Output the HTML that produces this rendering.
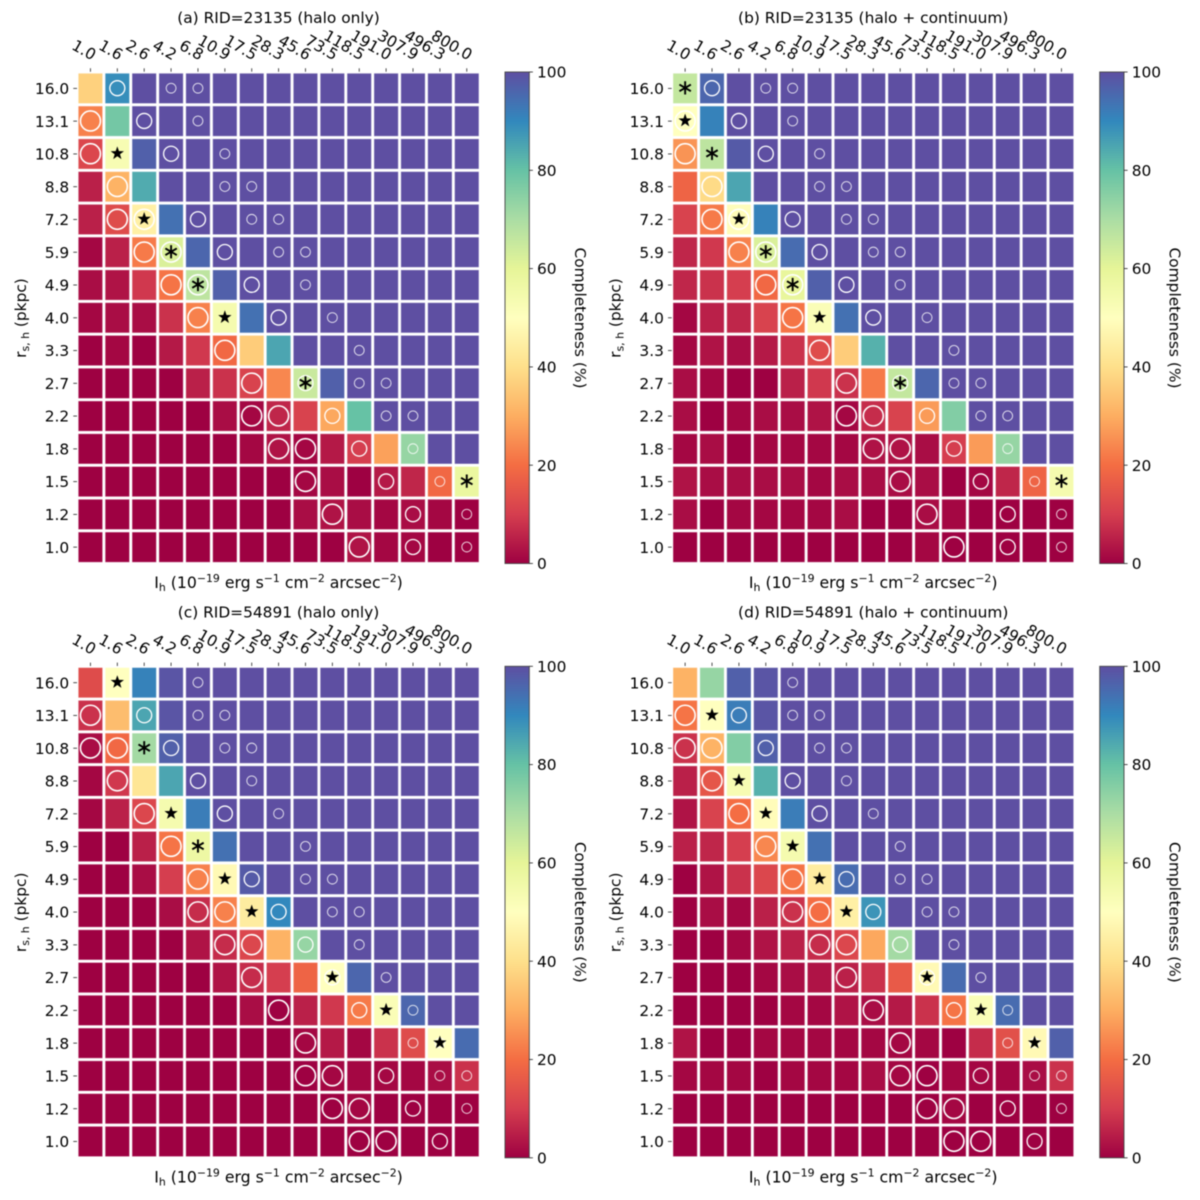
<!DOCTYPE html>
<html lang="en">
<head>
<meta charset="utf-8">
<title>Completeness heatmaps</title>
<style>
html,body{margin:0;padding:0;background:#fff;}
svg{display:block;filter:blur(0.4px);}
text{font-family:"DejaVu Sans","Liberation Sans",sans-serif;font-size:15.4px;fill:#000;}
.sm{font-size:10.9px;}
.xl{font-size:15.7px;}
</style>
</head>
<body>
<svg id="figure" xmlns="http://www.w3.org/2000/svg" width="1200" height="1200" viewBox="0 0 1200 1200" xml:space="preserve">
<defs id="defs"></defs>
<rect x="0" y="0" width="1200" height="1200" fill="#fff"/>

<g id="panel-a" transform="translate(0,0)">
<text x="278.5" y="23" text-anchor="middle">(a) RID=23135 (halo only)</text>
<text class="xl" x="278.5" y="588" text-anchor="middle">I<tspan class="sm" dy="3">h</tspan><tspan dy="-3"> (10</tspan><tspan class="sm" dy="-6">−19</tspan><tspan dy="6"> erg s</tspan><tspan class="sm" dy="-6">−1</tspan><tspan dy="6"> cm</tspan><tspan class="sm" dy="-6">−2</tspan><tspan dy="6"> arcsec</tspan><tspan class="sm" dy="-6">−2</tspan><tspan dy="6">)</tspan></text>
<text transform="translate(26,318) rotate(-90)" text-anchor="middle">r<tspan class="sm" dy="3">s, h</tspan><tspan dy="-3"> (pkpc)</tspan></text>
<text transform="translate(575,318) rotate(90)" text-anchor="middle">Completeness (%)</text>
</g>

<g id="panel-b" transform="translate(594.7,0)">
<text x="278.5" y="23" text-anchor="middle">(b) RID=23135 (halo + continuum)</text>
<text class="xl" x="278.5" y="588" text-anchor="middle">I<tspan class="sm" dy="3">h</tspan><tspan dy="-3"> (10</tspan><tspan class="sm" dy="-6">−19</tspan><tspan dy="6"> erg s</tspan><tspan class="sm" dy="-6">−1</tspan><tspan dy="6"> cm</tspan><tspan class="sm" dy="-6">−2</tspan><tspan dy="6"> arcsec</tspan><tspan class="sm" dy="-6">−2</tspan><tspan dy="6">)</tspan></text>
<text transform="translate(26,318) rotate(-90)" text-anchor="middle">r<tspan class="sm" dy="3">s, h</tspan><tspan dy="-3"> (pkpc)</tspan></text>
<text transform="translate(575,318) rotate(90)" text-anchor="middle">Completeness (%)</text>
</g>

<g id="panel-c" transform="translate(0,594.3)">
<text x="278.5" y="23" text-anchor="middle">(c) RID=54891 (halo only)</text>
<text class="xl" x="278.5" y="588" text-anchor="middle">I<tspan class="sm" dy="3">h</tspan><tspan dy="-3"> (10</tspan><tspan class="sm" dy="-6">−19</tspan><tspan dy="6"> erg s</tspan><tspan class="sm" dy="-6">−1</tspan><tspan dy="6"> cm</tspan><tspan class="sm" dy="-6">−2</tspan><tspan dy="6"> arcsec</tspan><tspan class="sm" dy="-6">−2</tspan><tspan dy="6">)</tspan></text>
<text transform="translate(26,318) rotate(-90)" text-anchor="middle">r<tspan class="sm" dy="3">s, h</tspan><tspan dy="-3"> (pkpc)</tspan></text>
<text transform="translate(575,318) rotate(90)" text-anchor="middle">Completeness (%)</text>
</g>

<g id="panel-d" transform="translate(594.7,594.3)">
<text x="278.5" y="23" text-anchor="middle">(d) RID=54891 (halo + continuum)</text>
<text class="xl" x="278.5" y="588" text-anchor="middle">I<tspan class="sm" dy="3">h</tspan><tspan dy="-3"> (10</tspan><tspan class="sm" dy="-6">−19</tspan><tspan dy="6"> erg s</tspan><tspan class="sm" dy="-6">−1</tspan><tspan dy="6"> cm</tspan><tspan class="sm" dy="-6">−2</tspan><tspan dy="6"> arcsec</tspan><tspan class="sm" dy="-6">−2</tspan><tspan dy="6">)</tspan></text>
<text transform="translate(26,318) rotate(-90)" text-anchor="middle">r<tspan class="sm" dy="3">s, h</tspan><tspan dy="-3"> (pkpc)</tspan></text>
<text transform="translate(575,318) rotate(90)" text-anchor="middle">Completeness (%)</text>
</g>
</svg>

<script>
// ---- Data ----
const intensityLabels = ["1.0","1.6","2.6","4.2","6.8","10.9","17.5","28.3","45.6","73.5","118.5","191.0","307.9","496.3","800.0"];
const radiusLabels = ["16.0","13.1","10.8","8.8","7.2","5.9","4.9","4.0","3.3","2.7","2.2","1.8","1.5","1.2","1.0"];
const colorbarTicks = [0,20,40,60,80,100];

const completenessA = [
[37,89,100,100,100,100,100,100,100,100,100,100,100,100,100],
[23,78,100,100,100,100,100,100,100,100,100,100,100,100,100],
[12,53,97,100,100,100,100,100,100,100,100,100,100,100,100],
[5,31,84,100,100,100,100,100,100,100,100,100,100,100,100],
[5,13,45,94,100,100,100,100,100,100,100,100,100,100,100],
[1,5,22,62,96,100,100,100,100,100,100,100,100,100,100],
[2,3,9,21,67,97,100,100,100,100,100,100,100,100,100],
[1,2,2,8,23,54,94,100,100,100,100,100,100,100,100],
[0,1,0,4,9,19,36,85,100,100,100,100,100,100,100],
[0,0,0,0,5,8,11,24,65,97,100,100,100,100,100],
[0,0,0,0,0,2,1,6,11,29,80,100,100,100,100],
[0,0,0,0,0,0,1,3,1,4,10,28,73,100,100],
[0,0,0,0,0,0,0,0,1,2,0,4,6,19,58],
[0,0,0,0,0,0,0,0,2,3,2,1,2,1,0],
[0,0,0,0,0,0,0,0,0,0,3,1,1,0,0]
];
const completenessB = [
[66,96,100,100,100,100,100,100,100,100,100,100,100,100,100],
[50,91,100,100,100,100,100,100,100,100,100,100,100,100,100],
[26,67,98,100,100,100,100,100,100,100,100,100,100,100,100],
[18,39,85,100,100,100,100,100,100,100,100,100,100,100,100],
[11,22,49,91,100,100,100,100,100,100,100,100,100,100,100],
[6,9,23,62,95,100,100,100,100,100,100,100,100,100,100],
[6,8,10,19,59,97,100,100,100,100,100,100,100,100,100],
[1,5,6,11,21,52,94,100,100,100,100,100,100,100,100],
[1,3,2,4,8,13,36,83,100,100,100,100,100,100,100],
[2,1,0,0,5,9,8,22,66,96,100,100,100,100,100],
[2,0,1,2,2,3,1,7,11,27,76,100,100,100,100],
[1,2,0,1,1,1,1,3,3,2,10,27,73,100,100],
[3,2,2,2,2,1,2,2,2,2,0,1,6,18,54],
[2,0,1,1,1,1,2,0,0,2,1,0,0,0,0],
[0,0,0,0,0,0,0,0,0,1,0,0,0,0,0]
];
const completenessC = [
[13,50,91,99,100,100,100,100,100,100,100,100,100,100,100],
[8,33,85,99,100,100,100,100,100,100,100,100,100,100,100],
[2,19,71,97,100,100,100,100,100,100,100,100,100,100,100],
[1,9,42,85,100,100,100,100,100,100,100,100,100,100,100],
[1,5,12,54,92,100,100,100,100,100,100,100,100,100,100],
[0,0,5,21,57,94,100,100,100,100,100,100,100,100,100],
[0,0,2,10,23,48,98,100,100,100,100,100,100,100,100],
[0,0,0,2,7,23,44,90,100,100,100,100,100,100,100],
[0,0,0,0,3,7,12,31,73,100,100,100,100,100,100],
[0,0,0,0,0,3,7,10,18,50,96,100,100,100,100],
[0,0,0,0,0,0,2,0,5,9,22,52,96,100,100],
[0,0,0,0,0,0,0,0,1,4,1,8,13,50,95],
[0,0,0,0,0,0,0,0,0,1,1,1,1,2,8],
[0,0,0,0,0,0,0,0,0,0,1,0,0,0,0],
[0,0,0,0,0,0,0,0,0,0,0,0,0,0,0]
];
const completenessD = [
[31,73,97,99,100,100,100,100,100,100,100,100,100,100,100],
[21,50,92,99,100,100,100,100,100,100,100,100,100,100,100],
[8,31,76,97,100,100,100,100,100,100,100,100,100,100,100],
[5,15,53,83,100,100,100,100,100,100,100,100,100,100,100],
[3,11,20,49,92,100,100,100,100,100,100,100,100,100,100],
[5,6,10,24,54,94,100,100,100,100,100,100,100,100,100],
[0,3,8,12,21,44,95,100,100,100,100,100,100,100,100],
[0,2,1,5,8,20,45,88,100,100,100,100,100,100,100],
[0,0,1,3,5,7,12,29,71,100,100,100,100,100,100],
[0,0,0,1,2,3,5,8,16,48,95,100,100,100,100],
[0,0,0,0,1,1,3,2,4,8,21,52,95,100,100],
[3,0,0,1,1,1,1,1,1,1,0,7,14,48,97],
[1,1,1,0,1,1,1,2,1,0,1,1,1,2,8],
[0,0,0,0,0,0,0,0,0,0,1,0,0,0,0],
[0,0,0,0,0,0,0,0,0,0,0,0,0,0,0]
];

// Ring markers: [row, column, size class 1..3]
const ringsRid23135 = [
[0,1,2],[0,3,1],[0,4,1],[1,0,3],[1,2,2],[1,4,1],[2,0,3],[2,3,2],[2,5,1],[3,1,3],[3,5,1],[3,6,1],
[4,1,3],[4,2,3],[4,4,2],[4,6,1],[4,7,1],[5,2,3],[5,3,3],[5,5,2],[5,7,1],[5,8,1],[6,3,3],[6,4,3],[6,6,2],[6,8,1],
[7,4,3],[7,7,2],[7,9,1],[8,5,3],[8,10,1],[9,6,3],[9,8,2],[9,10,1],[9,11,1],[10,6,3],[10,7,3],[10,9,2],[10,11,1],[10,12,1],
[11,7,3],[11,8,3],[11,10,2],[11,12,1],[12,8,3],[12,11,2],[12,13,1],[13,9,3],[13,12,2],[13,14,1],[14,10,3],[14,12,2],[14,14,1]
];
const ringsRid54891 = [
[0,4,1],[1,0,3],[1,2,2],[1,4,1],[1,5,1],[2,0,3],[2,1,3],[2,3,2],[2,5,1],[2,6,1],[3,1,3],[3,4,2],[3,6,1],
[4,2,3],[4,5,2],[4,7,1],[5,3,3],[5,8,1],[6,4,3],[6,6,2],[6,8,1],[6,9,1],[7,4,3],[7,5,3],[7,7,2],[7,9,1],[7,10,1],
[8,5,3],[8,6,3],[8,8,2],[8,10,1],[9,6,3],[9,9,2],[9,11,1],[10,7,3],[10,10,2],[10,12,1],[11,8,3],[11,12,1],[11,13,1],
[12,8,3],[12,9,3],[12,11,2],[12,13,1],[12,14,1],[13,9,3],[13,10,3],[13,12,2],[13,14,1],[14,10,3],[14,11,3],[14,13,2]
];

// Star and asterisk markers: [row, column]
const starsA = [[2,1],[4,2],[7,5]];
const asterisksA = [[5,3],[6,4],[9,8],[12,14]];
const starsB = [[1,0],[4,2],[7,5]];
const asterisksB = [[0,0],[2,1],[5,3],[6,4],[9,8],[12,14]];
const starsC = [[0,1],[4,3],[6,5],[7,6],[9,9],[10,11],[11,13]];
const asterisksC = [[2,2],[5,4]];
const starsD = [[1,1],[3,2],[4,3],[5,4],[6,5],[7,6],[9,9],[10,11],[11,13]];
const asterisksD = [];

// Spectral colormap anchors
const spectral = ["#9e0142","#d53e4f","#f46d43","#fdae61","#fee08b","#ffffbf","#e6f598","#abdda4","#66c2a5","#3288bd","#5e4fa2"];

// ---- Axes ----
const NS = "http://www.w3.org/2000/svg";
const plotLeft = 77, plotTop = 72, pitchX = 26.88, pitchY = 32.77;
const cbLeft = 505, cbRight = 529.3, cbTop = 72, cbBottom = 563.5;
const ringRadius = {1:4.9, 2:7.5, 3:10};
const ringStroke = {1:0.9, 2:1.3, 3:1.6};
const ringOpacity = {1:0.85, 2:1, 3:1};

function xScale(col){ return plotLeft + (col + 0.5) * pitchX; }
function yScale(row){ return plotTop + (row + 0.5) * pitchY; }
function cbScale(v){ return cbBottom - (v / 100) * (cbBottom - cbTop); }
function hexToRgb(h){ return [parseInt(h.slice(1,3),16),parseInt(h.slice(3,5),16),parseInt(h.slice(5,7),16)]; }
function colorScale(v){
  const t = Math.max(0, Math.min(1, v / 100)) * (spectral.length - 1);
  const i = Math.min(spectral.length - 2, Math.floor(t));
  const f = t - i;
  const a = hexToRgb(spectral[i]), b = hexToRgb(spectral[i + 1]);
  return "rgb(" + a.map((c, k) => Math.round(c + (b[k] - c) * f)).join(",") + ")";
}
function make(tag, attrs, parent){
  const node = document.createElementNS(NS, tag);
  for (const k in attrs) node.setAttribute(k, attrs[k]);
  parent.appendChild(node);
  return node;
}

// Colorbar gradient
const gradient = make("linearGradient", {id:"spectral-gradient", x1:"0", y1:"1", x2:"0", y2:"0"}, document.getElementById("defs"));
spectral.forEach((c, i) => {
  make("stop", {offset: (i / (spectral.length - 1)), "stop-color": c}, gradient);
});

function drawPanel(panelId, values, rings, stars, asterisks){
  const panel = document.getElementById(panelId);

  values.forEach((rowValues, r) => {
    rowValues.forEach((v, c) => {
      const cell = make("rect", {
        x: xScale(c) - pitchX / 2 + 1.35, y: yScale(r) - pitchY / 2 + 1.35,
        width: pitchX - 2.7, height: pitchY - 2.7,
        fill: colorScale(v), stroke: "#fff", "stroke-opacity": "0.3", "stroke-width": "0.8"
      }, panel);
      
      
    });
  });

  intensityLabels.forEach((label, c) => {
    const tick = make("line", {x1: xScale(c), x2: xScale(c), y1: 68.3, y2: plotTop - 0.3, stroke: "#222", "stroke-width": "0.8"}, panel);
    
    
    const tx = xScale(c) + 1.5, ty = 60.7;
    const text = make("text", {x: tx, y: ty, "text-anchor": "end", transform: "rotate(30 " + tx + " " + ty + ")"}, panel);
    text.textContent = label;
    
    
  });

  radiusLabels.forEach((label, r) => {
    const tick = make("line", {x1: 73.3, x2: plotLeft, y1: yScale(r), y2: yScale(r), stroke: "#222", "stroke-width": "0.8"}, panel);
    
    
    const text = make("text", {x: 69.2, y: yScale(r) + 5.6, "text-anchor": "end"}, panel);
    text.textContent = label;
    
    
  });

  rings.forEach(([r, c, size]) => {
    const ring = make("circle", {cx: xScale(c), cy: yScale(r) - 0.2, r: ringRadius[size], fill: "none", stroke: "#fff", "stroke-width": ringStroke[size], "stroke-opacity": ringOpacity[size]}, panel);
    
    
  });

  stars.forEach(([r, c]) => {
    const pts = [];
    for (let i = 0; i < 10; i++) {
      const rad = i % 2 === 0 ? 7 : 2.8;
      const ang = -Math.PI / 2 + i * Math.PI / 5;
      pts.push((xScale(c) + rad * Math.cos(ang)).toFixed(2) + "," + (yScale(r) - 0.5 + rad * Math.sin(ang)).toFixed(2));
    }
    const star = make("polygon", {points: pts.join(" "), fill: "#000"}, panel);
    
    
  });

  asterisks.forEach(([r, c]) => {
    let d = "";
    for (let i = 0; i < 3; i++) {
      const ang = Math.PI / 2 + i * Math.PI / 3, arm = 6.6;
      const cx = xScale(c), cy = yScale(r) - 0.5;
      d += "M" + (cx - arm * Math.cos(ang)).toFixed(2) + " " + (cy - arm * Math.sin(ang)).toFixed(2) +
           "L" + (cx + arm * Math.cos(ang)).toFixed(2) + " " + (cy + arm * Math.sin(ang)).toFixed(2);
    }
    const mark = make("path", {d: d, fill: "none", stroke: "#000", "stroke-width": "1.9"}, panel);
    
    
  });

  const bar = make("rect", {x: cbLeft, y: cbTop, width: cbRight - cbLeft, height: cbBottom - cbTop, fill: "url(#spectral-gradient)", stroke: "#444", "stroke-width": "0.9"}, panel);
  
  

  colorbarTicks.forEach(v => {
    const tick = make("line", {x1: cbRight, x2: cbRight + 3.6, y1: cbScale(v), y2: cbScale(v), stroke: "#222", "stroke-width": "0.8"}, panel);
    
    
    const text = make("text", {x: 537, y: cbScale(v) + 5.6}, panel);
    text.textContent = String(v);
    
    
  });
}

drawPanel("panel-a", completenessA, ringsRid23135, starsA, asterisksA);
drawPanel("panel-b", completenessB, ringsRid23135, starsB, asterisksB);
drawPanel("panel-c", completenessC, ringsRid54891, starsC, asterisksC);
drawPanel("panel-d", completenessD, ringsRid54891, starsD, asterisksD);
</script>
</body>
</html>
